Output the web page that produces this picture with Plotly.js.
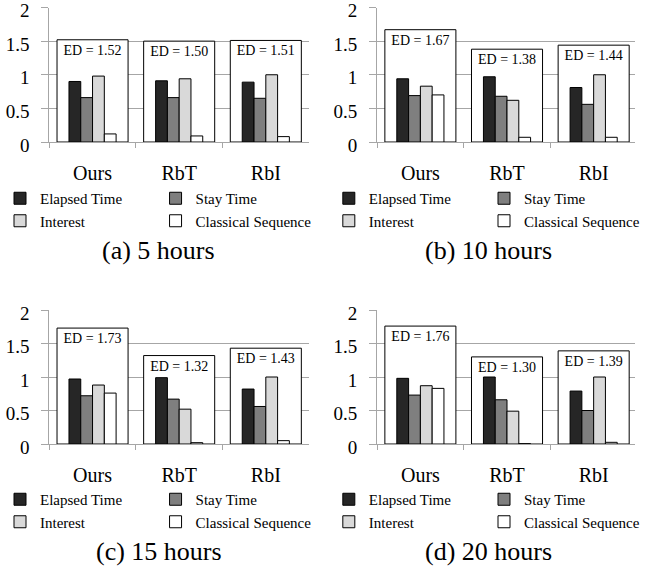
<!DOCTYPE html>
<html>
<head>
<meta charset="utf-8">
<script src="https://cdn.plot.ly/plotly-3.0.1.min.js"></script>
<style>
  html, body { margin: 0; padding: 0; background: #ffffff; }
  #chart { width: 645px; height: 572px; }
</style>
</head>
<body>
<div id="chart"></div>
<script>
// ---------- data ----------
const categories = ['Ours', 'RbT', 'RbI'];
const seriesNames = ['Elapsed Time', 'Stay Time', 'Interest', 'Classical Sequence'];
const panelCaptions = ['(a) 5 hours', '(b) 10 hours', '(c) 15 hours', '(d) 20 hours'];
const yTickVals = [0, 0.5, 1, 1.5, 2];
const yTickText = ['0', '0.5', '1', '1.5', '2'];

// (a) 5 hours
const elapsed5 = [0.90, 0.91, 0.89];
const stay5 = [0.66, 0.66, 0.65];
const interest5 = [0.98, 0.94, 1.00];
const classical5 = [0.12, 0.09, 0.08];
const ed5 = [1.52, 1.50, 1.51];

// (b) 10 hours
const elapsed10 = [0.94, 0.97, 0.81];
const stay10 = [0.69, 0.68, 0.56];
const interest10 = [0.83, 0.62, 1.00];
const classical10 = [0.70, 0.07, 0.07];
const ed10 = [1.67, 1.38, 1.44];

// (c) 15 hours
const elapsed15 = [0.97, 0.99, 0.82];
const stay15 = [0.72, 0.67, 0.56];
const interest15 = [0.88, 0.52, 1.00];
const classical15 = [0.76, 0.02, 0.05];
const ed15 = [1.73, 1.32, 1.43];

// (d) 20 hours
const elapsed20 = [0.98, 1.00, 0.79];
const stay20 = [0.73, 0.66, 0.50];
const interest20 = [0.87, 0.49, 1.00];
const classical20 = [0.83, 0.005, 0.025];
const ed20 = [1.76, 1.30, 1.39];

const panels = [
  [elapsed5, stay5, interest5, classical5, ed5],
  [elapsed10, stay10, interest10, classical10, ed10],
  [elapsed15, stay15, interest15, classical15, ed15],
  [elapsed20, stay20, interest20, classical20, ed20]
];

// ---------- styling / layout ----------
const W = 645, H = 572;
const seriesColors = ['#262626', '#7f7f7f', '#d9d9d9', '#ffffff'];
const serif = 'Liberation Serif';
const gridGray = '#a6a6a6';
const barW = 0.136;
const edW = 0.82;

const xDomains = [[50 / W, 314 / W], [383 / W, 1], [50 / W, 314 / W], [383 / W, 1]];
const yDomains = [
  [1 - 142 / H, 1 - 7.5 / H], [1 - 142 / H, 1 - 7.5 / H],
  [1 - 444 / H, 1 - 310 / H], [1 - 444 / H, 1 - 310 / H]
];
const xRanges = [[-0.5, 2.5], [-0.5, -0.5 + 262 / 88], [-0.5, 2.5], [-0.5, -0.5 + 262 / 88]];
const panelLeft = [0, 334, 0, 334];
const panelTop = [0, 0, 301, 301];
const captionX = [161, 496, 161, 496];

const traces = [];
const layout = {
  width: W, height: H,
  margin: { l: 0, r: 0, t: 0, b: 0 },
  paper_bgcolor: '#ffffff',
  plot_bgcolor: '#ffffff',
  barmode: 'overlay',
  font: { family: serif, color: '#000000' },
  annotations: [],
  hovermode: false
};

panels.forEach((vals, p) => {
  const xa = p === 0 ? 'x' : 'x' + (p + 1);
  const ya = p === 0 ? 'y' : 'y' + (p + 1);
  const xKey = p === 0 ? 'xaxis' : 'xaxis' + (p + 1);
  const yKey = p === 0 ? 'yaxis' : 'yaxis' + (p + 1);

  // ED enclosing box
  const ed = vals[4];
  traces.push({
    type: 'bar', x: categories, y: ed, xaxis: xa, yaxis: ya,
    width: edW, offset: -edW / 2,
    marker: { color: '#ffffff', line: { color: '#000000', width: 1 } },
    text: ed.map(v => 'ED = ' + v.toFixed(2)),
    textposition: 'inside', insidetextanchor: 'end', textangle: 0,
    constraintext: 'none',
    insidetextfont: { family: serif, size: 14, color: '#000000' },
    showlegend: false, hoverinfo: 'skip'
  });

  for (let s = 0; s < 4; s++) {
    const legIdx = p * 2 + (s % 2) + 1;
    traces.push({
      type: 'bar', name: seriesNames[s], x: categories, y: vals[s],
      xaxis: xa, yaxis: ya,
      width: barW, offset: -2 * barW + s * barW,
      marker: { color: seriesColors[s], line: { color: '#000000', width: 1 } },
      legend: legIdx === 1 ? 'legend' : 'legend' + legIdx,
      showlegend: true, hoverinfo: 'skip'
    });
  }

  layout[xKey] = {
    domain: xDomains[p], anchor: ya, type: 'category', range: xRanges[p],
    showline: true, linecolor: gridGray, linewidth: 1,
    ticks: 'outside', tickson: 'boundaries', ticklen: 5, tickcolor: gridGray,
    showgrid: false, zeroline: false, fixedrange: true,
    tickfont: { family: serif, size: 20, color: '#000000' },
    ticklabelstandoff: 13
  };
  layout[yKey] = {
    domain: yDomains[p], anchor: xa, range: [0, 2], tickvals: yTickVals,
    ticktext: yTickText,
    showline: true, linecolor: gridGray, linewidth: 1,
    ticks: 'outside', ticklen: 7, tickcolor: gridGray,
    showgrid: true, gridcolor: gridGray, gridwidth: 1, zeroline: false,
    fixedrange: true, ticklabeloverflow: 'allow', ticklabelshift: 3,
    tickfont: { family: serif, size: 19, color: '#000000' },
    ticklabelstandoff: 8
  };

  // legends: two vertical columns per panel
  for (let c = 0; c < 2; c++) {
    const legIdx = p * 2 + c + 1;
    const key = legIdx === 1 ? 'legend' : 'legend' + legIdx;
    const lx = panelLeft[p] + c * 158;
    const ly = 182 + panelTop[p];
    layout[key] = {
      x: lx / W, y: 1 - ly / H, xanchor: 'left', yanchor: 'top',
      orientation: 'v', bgcolor: 'rgba(0,0,0,0)', borderwidth: 0,
      font: { family: serif, size: 15, color: '#000000' },
      itemclick: false, itemdoubleclick: false, traceorder: 'normal'
    };
  }

  layout.annotations.push({
    xref: 'paper', yref: 'paper', x: captionX[p] / W, y: 1 - (250 + panelTop[p]) / H,
    xanchor: 'center', yanchor: 'middle', showarrow: false,
    text: panelCaptions[p],
    font: { family: serif, size: 26, color: '#000000' }
  });
});

Plotly.newPlot('chart', traces, layout, { displayModeBar: false, staticPlot: true });
</script>
</body>
</html>
